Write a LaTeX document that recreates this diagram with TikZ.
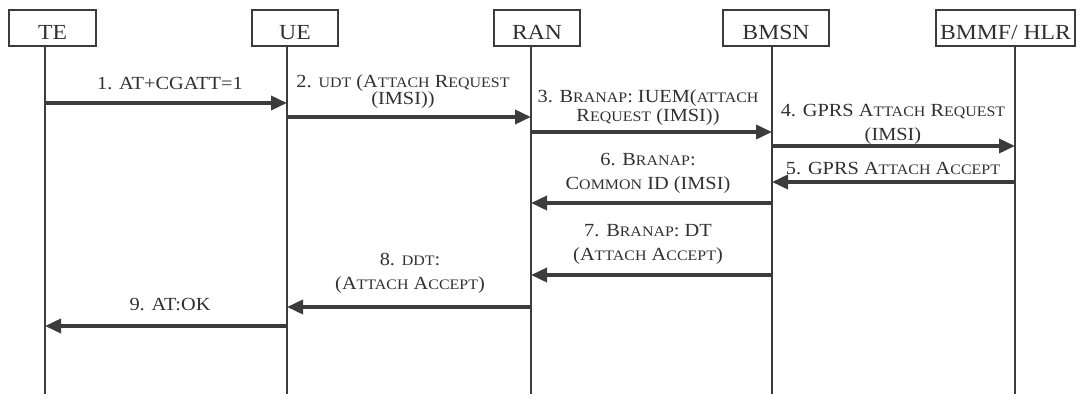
\documentclass[tikz,border=0pt]{standalone}
\usepackage{fontspec}
\setmainfont[FakeStretch=1.1]{Liberation Serif}
\usetikzlibrary{arrows.meta}
\definecolor{lc}{HTML}{3c3c3c}
\definecolor{txt}{HTML}{303030}
\newcommand\sm[1]{{\fontsize{14.5}{16}\selectfont #1}}
\tikzset{
  actor/.style={draw=lc, line width=1.9pt, minimum height=36pt, inner sep=0pt,
    text height=22pt, text depth=0pt, text=txt, font=\fontsize{21.5}{24}\selectfont},
  life/.style={draw=lc, line width=1.7pt},
  msg/.style={draw=lc, line width=3.6pt, -{Triangle[length=16pt,width=14pt]}},
  lbl/.style={text=txt, align=center, inner sep=0pt, font=\fontsize{18.5}{21}\selectfont}
}
\begin{document}
\begin{tikzpicture}[x=1pt,y=-1pt]
\useasboundingbox (0,0) rectangle (1080,394);
% actor boxes
\node[actor, minimum width=87pt]  (TE)   at (52.5,28)  {TE};
\node[actor, minimum width=86pt]  (UE)   at (295,28)   {UE};
\node[actor, minimum width=86pt]  (RAN)  at (537,28)   {RAN};
\node[actor, minimum width=106pt] (BMSN) at (776,28)   {BMSN};
\node[actor, minimum width=139pt] (HLR)  at (1005.5,28) {BMMF/ HLR};
% lifelines
\coordinate (teT) at (45,46);   \coordinate (teB) at (45,394);
\coordinate (ueT) at (287,46);  \coordinate (ueB) at (287,394);
\coordinate (ranT) at (531,46); \coordinate (ranB) at (531,394);
\coordinate (bmT) at (772,46);  \coordinate (bmB) at (772,394);
\coordinate (hlT) at (1015,46); \coordinate (hlB) at (1015,394);
\draw[life] (teT) -- (teB);
\draw[life] (ueT) -- (ueB);
\draw[life] (ranT) -- (ranB);
\draw[life] (bmT) -- (bmB);
\draw[life] (hlT) -- (hlB);
% message end points
\coordinate (m1a) at (45,103);   \coordinate (m1b) at (287,103);
\coordinate (m2a) at (287,117);  \coordinate (m2b) at (531,117);
\coordinate (m3a) at (531,132);  \coordinate (m3b) at (772,132);
\coordinate (m4a) at (772,146);  \coordinate (m4b) at (1015,146);
\coordinate (m5a) at (1015,182); \coordinate (m5b) at (772,182);
\coordinate (m6a) at (772,203);  \coordinate (m6b) at (531,203);
\coordinate (m7a) at (772,275);  \coordinate (m7b) at (531,275);
\coordinate (m8a) at (531,307);  \coordinate (m8b) at (287,307);
\coordinate (m9a) at (287,326);  \coordinate (m9b) at (45,326);
\draw[msg] (m1a) -- (m1b);
\draw[msg] (m2a) -- (m2b);
\draw[msg] (m3a) -- (m3b);
\draw[msg] (m4a) -- (m4b);
\draw[msg] (m5a) -- (m5b);
\draw[msg] (m6a) -- (m6b);
\draw[msg] (m7a) -- (m7b);
\draw[msg] (m8a) -- (m8b);
\draw[msg] (m9a) -- (m9b);
% labels
\node[lbl] (l1) at (170,84) {1. AT+CGATT=1};
\node[lbl] (l2) at (403,92) {2. \sm{UDT} (A\sm{TTACH} R\sm{EQUEST}\\[-4pt](IMSI))};
\node[lbl] (l3) at (648,107.5) {3. B\sm{RANAP}: IUEM(\sm{ATTACH}\\[-2pt]R\sm{EQUEST} (IMSI))};
\node[lbl] (l4) at (893,124) {4. GPRS A\sm{TTACH} R\sm{EQUEST}\\[3pt](IMSI)};
\node[lbl] (l5) at (893,169) {5. GPRS A\sm{TTACH} A\sm{CCEPT}};
\node[lbl] (l6) at (648,173) {6. B\sm{RANAP}:\\[3pt]C\sm{OMMON} ID (IMSI)};
\node[lbl] (l7) at (648,244) {7. B\sm{RANAP}: DT\\[3pt](A\sm{TTACH} A\sm{CCEPT})};
\node[lbl] (l8) at (410,273) {8. \sm{DDT}:\\[3pt](A\sm{TTACH} A\sm{CCEPT})};
\node[lbl] (l9) at (170,305) {9. AT:OK};
\end{tikzpicture}
\end{document}
